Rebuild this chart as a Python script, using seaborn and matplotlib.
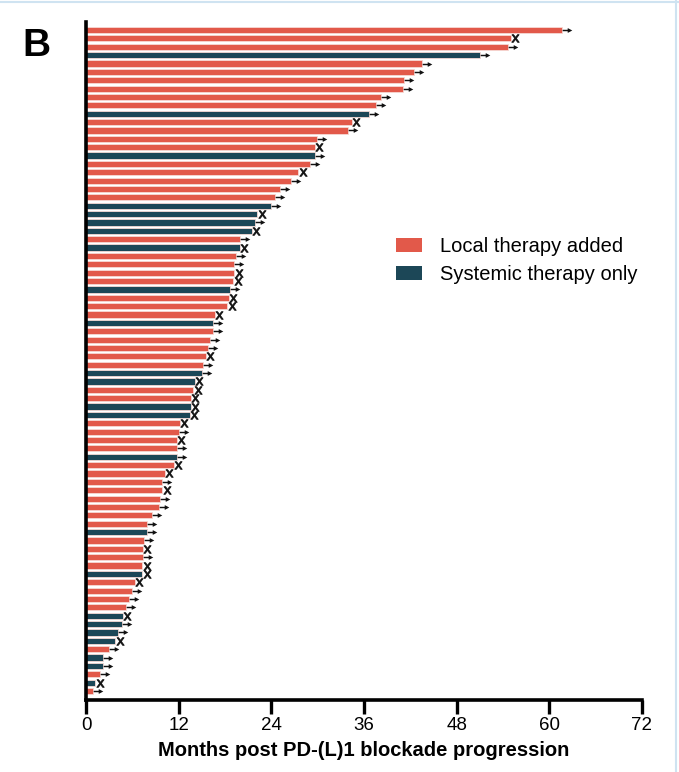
import numpy as np
import pandas as pd
import seaborn as sns
import matplotlib.pyplot as plt
from matplotlib.lines import Line2D
from matplotlib.path import Path

# Months on treatment after PD-(L)1 blockade progression, one bar per patient (longest first)
months = [61.6, 55.0, 54.6, 51.0, 43.5, 42.5, 41.2, 41.1, 38.2, 37.6,
          36.6, 34.4, 33.9, 29.9, 29.6, 29.6, 29.0, 27.5, 26.6, 25.1,
          24.5, 23.9, 22.2, 21.9, 21.5, 20.0, 19.9, 19.4, 19.2, 19.2,
          19.1, 18.7, 18.5, 18.3, 16.7, 16.5, 16.4, 16.1, 15.8, 15.5,
          15.1, 15.0, 14.1, 13.9, 13.6, 13.6, 13.5, 12.2, 12.0, 11.8,
          11.8, 11.8, 11.4, 10.2, 9.9, 9.9, 9.6, 9.4, 8.5, 7.9,
          7.9, 7.5, 7.4, 7.4, 7.3, 7.3, 6.3, 5.9, 5.6, 5.2,
          4.8, 4.7, 4.2, 3.8, 3.0, 2.2, 2.2, 1.8, 1.2, 0.9]

# L = local therapy added, S = systemic therapy only
groups = list("LLLSLLLLLL"
              "SLLLLSLLLL"
              "LSSSSLSLLL"
              "LSLLLSLLLL"
              "LSSLLSSLLL"
              "LSLLLLLLLL"
              "SLLLLSLLLL"
              "SSSSLSSLSL")

# A = ongoing (arrow), X = event
status = list("AXAAAAAAAA"
              "AXAAXAAXAA"
              "AAXAXAXAAX"
              "XAXXXAAAAX"
              "AAXXXXXXAX"
              "AAXXAXAAAA"
              "AAXAXXXAAA"
              "XAAXAAAAXA")

group_names = {"L": "Local therapy added", "S": "Systemic therapy only"}
palette = {"Local therapy added": "#E2594A", "Systemic therapy only": "#1C4757"}

patients = [f"P{i + 1:02d}" for i in range(len(months))]
df = pd.DataFrame({
    "patient": patients,
    "months": months,
    "group": [group_names[g] for g in groups],
    "status": status,
})
df["pos"] = np.arange(len(df))

sns.set_style("ticks", {"axes.edgecolor": "black", "text.color": "black",
                        "xtick.color": "black", "axes.labelcolor": "black"})
plt.rcParams["font.family"] = ["Liberation Sans", "DejaVu Sans"]

fig = plt.figure(figsize=(6.79, 7.72), dpi=100)
ax = fig.add_axes([86 / 679, 1 - 700 / 772, 556 / 679, 678 / 772])

sns.barplot(data=df, x="months", y="patient", hue="group", order=patients,
            hue_order=list(palette), palette=palette, saturation=1,
            dodge=False, orient="h", width=0.74, edgecolor="#f6d9d4",
            linewidth=0.6, ax=ax)

# Arrow marker: short shaft with a filled head
arrow = Path(
    [(-1.0, -0.15), (0.15, -0.15), (0.15, 0.15), (-1.0, 0.15), (-1.0, -0.15),
     (0.05, -0.5), (1.0, 0.0), (0.05, 0.5), (0.05, -0.5)],
    [Path.MOVETO, Path.LINETO, Path.LINETO, Path.LINETO, Path.CLOSEPOLY,
     Path.MOVETO, Path.LINETO, Path.LINETO, Path.CLOSEPOLY])

# End-of-bar markers: arrows for ongoing, x for events
ongoing = df[df["status"] == "A"]
events = df[df["status"] == "X"]
ax.scatter(ongoing["months"] + 0.65, ongoing["pos"], marker=arrow,
           s=48, color="#111111", linewidths=0, zorder=5)
ax.scatter(events["months"] + 0.55, events["pos"], marker=r"$\mathsf{x}$",
           s=30, color="#111111", linewidths=0.6, zorder=5)

ax.set_xlim(0, 72)
ax.set_xticks(np.arange(0, 73, 12))
ax.set_ylim(len(df) - 1 + 1.07, -0.96)
ax.set_yticks([])
ax.set_ylabel("")
ax.set_xlabel("Months post PD-(L)1 blockade progression", fontsize=14.5,
              fontweight="bold", labelpad=5)
ax.tick_params(axis="x", labelsize=13.5, length=10, width=2.4, pad=2)
for side in ("top", "right"):
    ax.spines[side].set_visible(False)
for side in ("left", "bottom"):
    ax.spines[side].set_linewidth(2.6)

handles, labels = ax.get_legend_handles_labels()
ax.legend(handles, labels, loc="upper left", bbox_to_anchor=(0.558, 0.683),
          frameon=False, fontsize=14.5, borderpad=0, borderaxespad=0,
          handlelength=1.3, handleheight=0.65, handletextpad=0.85,
          labelspacing=0.45)
for h in ax.get_legend().legend_handles:
    h.set_edgecolor("none")

fig.text(22 / 679, 1 - 56 / 772, "B", fontsize=28, fontweight="bold",
         ha="left", va="baseline")

# thin panel border lines
fig.add_artist(Line2D([0, 1], [1 - 2 / 772, 1 - 2 / 772], color="#cfe3f1", lw=1.5))
fig.add_artist(Line2D([1 - 3 / 679, 1 - 3 / 679], [0, 1], color="#cfe3f1", lw=1.5))

fig.savefig("out.png", dpi=100)
